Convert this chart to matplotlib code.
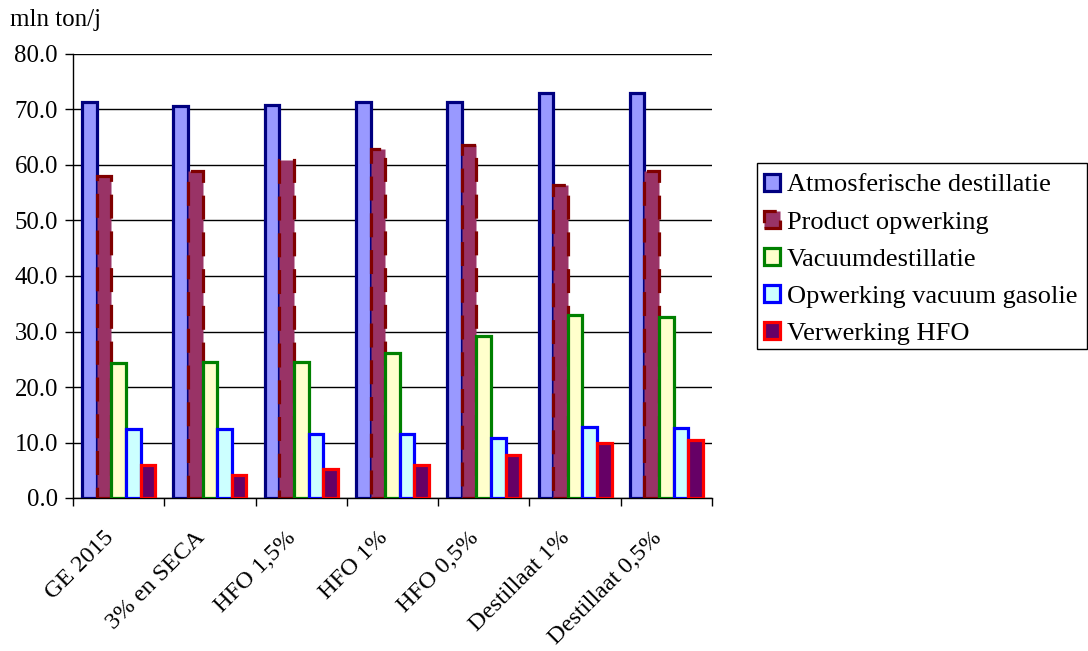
import numpy as np
import matplotlib
matplotlib.use("Agg")
import matplotlib.pyplot as plt
from matplotlib.patches import Patch, Rectangle

plt.rcParams['font.family'] = ['Liberation Serif', 'DejaVu Serif']

categories = ["GE 2015", "3% en SECA", "HFO 1,5%", "HFO 1%", "HFO 0,5%",
              "Destillaat 1%", "Destillaat 0,5%"]

atmosferische_destillatie = [71.4, 70.7, 70.9, 71.4, 71.4, 73.0, 73.0]
product_opwerking = [58.0, 58.9, 60.9, 62.9, 63.6, 56.4, 58.9]
vacuumdestillatie = [24.4, 24.5, 24.5, 26.2, 29.1, 32.9, 32.7]
opwerking_vacuum_gasolie = [12.4, 12.5, 11.5, 11.5, 10.9, 12.8, 12.7]
verwerking_hfo = [6.0, 4.1, 5.3, 6.0, 7.7, 10.0, 10.4]

series = [
    ("Atmosferische destillatie", atmosferische_destillatie,
     dict(facecolor="#9999FF", edgecolor="#000080", linestyle="-")),
    ("Product opwerking", product_opwerking,
     dict(facecolor="#993366", edgecolor="#800000", linestyle=(0, (7.5, 4)))),
    ("Vacuumdestillatie", vacuumdestillatie,
     dict(facecolor="#FFFFCC", edgecolor="#008000", linestyle="-")),
    ("Opwerking vacuum gasolie", opwerking_vacuum_gasolie,
     dict(facecolor="#CCFFFF", edgecolor="#0000FF", linestyle="-")),
    ("Verwerking HFO", verwerking_hfo,
     dict(facecolor="#660066", edgecolor="#FF0000", linestyle="-")),
]

W, H = 1088, 651
fig = plt.figure(figsize=(W / 100, H / 100), dpi=100)
ax = fig.add_axes([73 / W, 1 - 498 / H, (712 - 73) / W, (498 - 54) / H])

x = np.arange(len(categories))
width = 0.16
lw = 2.3
for i, (name, vals, style) in enumerate(series):
    ax.bar(x + (i - 2) * width, vals, width, linewidth=lw, zorder=3, **style)

ax.set_xlim(-0.5, len(categories) - 0.5)
ax.set_ylim(0, 80)
ax.set_yticks(np.arange(0, 81, 10))
ax.yaxis.set_major_formatter(matplotlib.ticker.FormatStrFormatter("%.1f"))
ax.grid(axis="y", color="black", linewidth=1.0, zorder=0)
ax.set_axisbelow(True)

for s in ["top", "right"]:
    ax.spines[s].set_visible(False)
for s in ["left", "bottom"]:
    ax.spines[s].set_linewidth(1.0)
    ax.spines[s].set_color("black")

# category boundaries carry the tick marks, centres carry the labels
ax.set_xticks(np.arange(-0.5, len(categories), 1.0))
ax.set_xticklabels([])
ax.set_xticks(x - 0.17, minor=True)
ax.set_xticklabels(categories, minor=True, rotation=45, ha="right",
                   rotation_mode="anchor", fontsize=17.5)
ax.tick_params(axis="x", which="major", direction="out", length=5.5, width=1)
ax.tick_params(axis="x", which="minor", length=0, pad=21)
ax.tick_params(axis="y", direction="out", length=5.8, width=1, labelsize=17.8, pad=5)

fig.text(10 / W, 1 - 20 / H, "mln ton/j", fontsize=18, va="center", ha="left")

# legend box drawn separately so its padding can be set exactly
fig.patches.append(Rectangle((757 / W, 1 - 349 / H), (1087 - 757) / W, (349 - 163) / H,
                             transform=fig.transFigure, facecolor="white",
                             edgecolor="black", linewidth=1.0, zorder=1))
handles = [Patch(label=name, linewidth=lw, **style) for name, vals, style in series]
leg = fig.legend(handles=handles, loc="upper left",
                 bbox_to_anchor=(757 / W, 1 - 167 / H),
                 fontsize=19, frameon=False,
                 handlelength=0.62, handleheight=0.62, handletextpad=0.25,
                 labelspacing=0.54, borderpad=0.25, borderaxespad=0)
leg.set_zorder(2)

fig.savefig("out.png", dpi=100)
